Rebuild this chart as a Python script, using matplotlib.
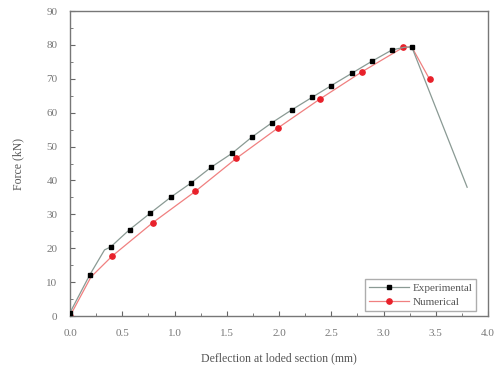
"""Force vs deflection at loaded section: experimental vs numerical."""

import matplotlib

matplotlib.use("Agg")
import matplotlib.pyplot as plt
from matplotlib.ticker import MultipleLocator

plt.rcParams["font.family"] = ["Liberation Serif", "DejaVu Serif"]

# Experimental curve (line points); markers shown on exp_marks indices only
exp_x = [0.0, 0.19, 0.33, 0.39, 0.46, 0.57, 0.77, 0.97, 1.16, 1.35, 1.55, 1.74,
         1.93, 2.12, 2.32, 2.50, 2.70, 2.89, 3.08, 3.20, 3.27, 3.80]
exp_y = [1.0, 12.2, 19.5, 20.4, 22.4, 25.5, 30.4, 35.2, 39.3, 43.9, 48.0, 52.8,
         57.0, 60.8, 64.6, 68.0, 71.7, 75.2, 78.5, 79.3, 79.4, 38.0]
exp_marks = [0, 1, 3, 5, 6, 7, 8, 9, 10, 11, 12, 13, 14, 15, 16, 17, 18, 20]

num_x = [0.0, 0.20, 0.40, 0.79, 1.20, 1.59, 1.99, 2.39, 2.79, 3.19, 3.27, 3.44]
num_y = [0.0, 11.5, 17.6, 27.5, 36.8, 46.5, 55.5, 64.0, 72.0, 79.3, 79.4, 69.9]
num_marks = [0, 2, 3, 4, 5, 6, 7, 8, 9, 11]

fig = plt.figure(figsize=(4.98, 3.72), dpi=100)
ax = fig.add_axes([0.1406, 0.1505, 0.8394, 0.8199])

ax.plot(num_x, num_y, color="#f08080", lw=0.9, marker="o", markersize=3.8,
        markerfacecolor="#e8202a", markeredgecolor="#e8202a",
        markevery=num_marks, label="Numerical", zorder=2)
ax.plot(exp_x, exp_y, color="#8a9a94", lw=0.9, marker="s", markersize=3.5,
        markerfacecolor="black", markeredgecolor="black",
        markevery=exp_marks, label="Experimental", zorder=3)

ax.set_xlim(0, 4.0)
ax.set_ylim(0, 90)
ax.xaxis.set_major_locator(MultipleLocator(0.5))
ax.xaxis.set_minor_locator(MultipleLocator(0.25))
ax.yaxis.set_major_locator(MultipleLocator(10))
ax.yaxis.set_minor_locator(MultipleLocator(5))
ax.xaxis.set_major_formatter(lambda v, p: f"{v:.1f}")
ax.tick_params(which="both", direction="in", colors="#666666", labelcolor="#777777",
               labelsize=8)
ax.tick_params(which="major", length=3.5)
ax.tick_params(which="minor", length=2)
ax.tick_params(axis="y", pad=9)
ax.tick_params(axis="x", pad=9)
for side in ax.spines.values():
    side.set_color("#777777")
    side.set_linewidth(1.0)

ax.set_xlabel("Deflection at loded section (mm)", fontsize=8.5, color="#555555",
              labelpad=11)
ax.set_ylabel("Force (kN)", fontsize=8.5, color="#555555", labelpad=16)

handles, labels = ax.get_legend_handles_labels()
leg = ax.legend(handles[::-1], labels[::-1], loc="lower right",
                bbox_to_anchor=(0.972, 0.018), fontsize=8,
                frameon=True, fancybox=False, edgecolor="#999999",
                borderaxespad=0.0, handlelength=3.6, labelspacing=0.35,
                handletextpad=0.3, borderpad=0.35)
for t in leg.get_texts():
    t.set_color("#555555")

fig.savefig("out.png", dpi=100)
